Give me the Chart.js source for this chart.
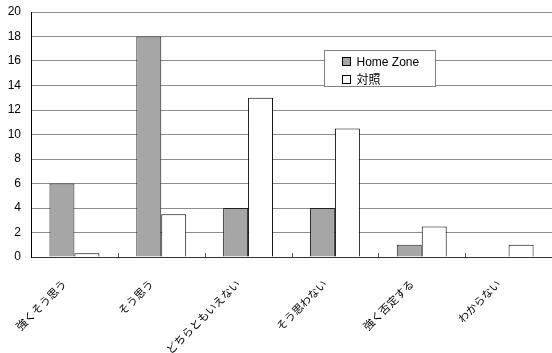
<!DOCTYPE html>
<html>
<head>
<meta charset="utf-8">
<script src="https://cdn.jsdelivr.net/npm/chart.js@4.4.1/dist/chart.umd.min.js"></script>
<style>
  html, body { margin: 0; padding: 0; background: #fff; }
  #wrap { width: 552px; height: 353px; position: relative; }
</style>
</head>
<body>
<div id="wrap"><canvas id="c"></canvas></div>
<script>
const categories = ['強くそう思う', 'そう思う', 'どちらともいえない', 'そう思わない', '強く否定する', 'わからない'];
const homeZone = [6, 18, 4, 4, 1, 0];
const control = [0.3, 3.5, 13, 10.5, 2.5, 1];
const seriesNames = ['Home Zone', '対照'];
const yTicks = [0, 2, 4, 6, 8, 10, 12, 14, 16, 18, 20];

// short inside tick marks between the categories, Excel style
const catTicks = {
  id: 'catTicks',
  afterDatasetsDraw(chart) {
    const x = chart.scales.x, ctx = chart.ctx;
    const y0 = chart.chartArea.bottom;
    ctx.save();
    ctx.strokeStyle = '#555';
    ctx.lineWidth = 1;
    for (let i = 1; i < categories.length; i++) {
      const px = Math.round((x.getPixelForTick(i - 1) + x.getPixelForTick(i)) / 2) + 0.5;
      ctx.beginPath();
      ctx.moveTo(px, y0 - 4);
      ctx.lineTo(px, y0);
      ctx.stroke();
    }
    ctx.restore();
  }
};

// boxed legend sitting inside the plot
const boxLegend = {
  id: 'boxLegend',
  afterDraw(chart) {
    const ctx = chart.ctx;
    const bx = 324.5, by = 50.5, bw = 111, bh = 36;
    ctx.save();
    ctx.fillStyle = '#fff';
    ctx.fillRect(bx, by, bw, bh);
    ctx.strokeStyle = '#808080';
    ctx.lineWidth = 1;
    ctx.strokeRect(bx, by, bw, bh);
    ctx.font = '12px "Liberation Sans", "Noto Sans CJK JP", sans-serif';
    ctx.textBaseline = 'middle';
    chart.data.datasets.forEach((ds, i) => {
      const cy = by + 11 + i * 18;
      ctx.fillStyle = ds.backgroundColor;
      ctx.fillRect(bx + 18, cy - 4, 8, 8);
      ctx.strokeStyle = '#000';
      ctx.strokeRect(bx + 18, cy - 4, 8, 8);
      ctx.fillStyle = '#000';
      ctx.fillText(ds.label, bx + 32, cy + 1);
    });
    ctx.restore();
  }
};

new Chart(document.getElementById('c'), {
  type: 'bar',
  data: {
    labels: categories,
    datasets: [
      { label: seriesNames[0], data: homeZone, backgroundColor: '#a6a6a6', borderColor: '#222', borderWidth: 1 },
      { label: seriesNames[1], data: control, backgroundColor: '#ffffff', borderColor: '#000', borderWidth: 1 }
    ]
  },
  options: {
    responsive: true,
    maintainAspectRatio: false,
    animation: false,
    layout: { padding: { top: 12, right: 0, left: 0, bottom: 0 } },
    datasets: { bar: { barPercentage: 1, categoryPercentage: 0.575 } },
    plugins: { legend: { display: false }, tooltip: { enabled: false } },
    scales: {
      x: {
        grid: { display: false },
        border: { display: true, color: '#333', width: 1 },
        ticks: {
          color: '#000',
          maxRotation: 45, minRotation: 45,
          font: { family: '"Noto Sans CJK JP", sans-serif', size: 11 },
          padding: 12,
          labelOffset: -10
        },
        afterFit(s) { s.height = 96; s.paddingLeft = 0; s.paddingRight = 0; }
      },
      y: {
        min: 0, max: 20,
        afterBuildTicks(s) { s.ticks = yTicks.map(v => ({ value: v })); },
        grid: { color: '#8c8c8c', tickLength: 0 },
        border: { display: true, color: '#000', width: 1 },
        ticks: {
          color: '#000',
          padding: 10,
          font: { family: '"Liberation Sans", Arial, sans-serif', size: 12 }
        },
        afterFit(s) { s.width = 31; s.paddingTop = 0; s.paddingBottom = 0; }
      }
    }
  },
  plugins: [catTicks, boxLegend]
});
</script>
</body>
</html>
